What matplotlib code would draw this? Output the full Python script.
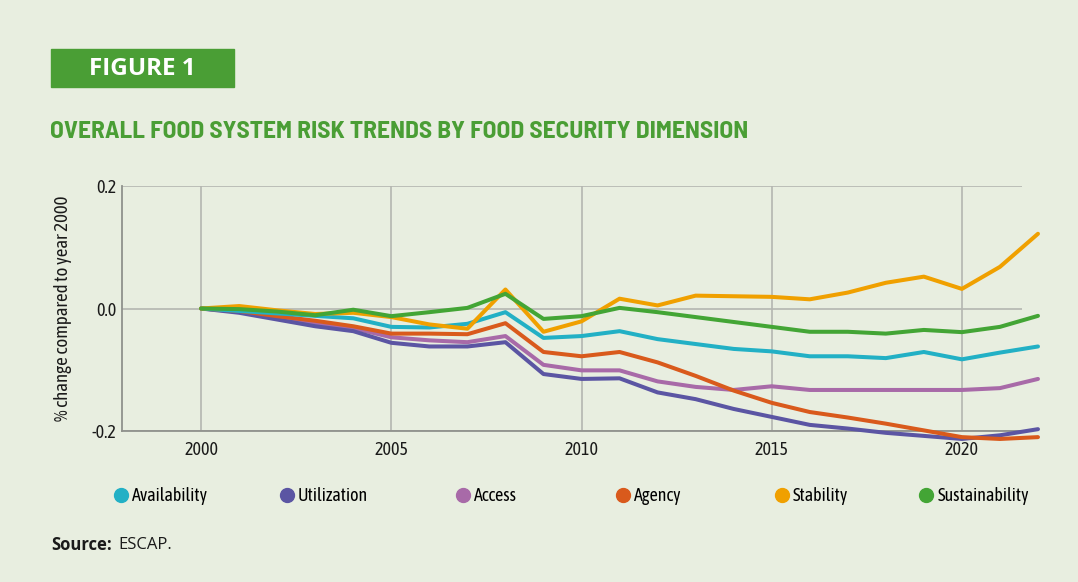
import matplotlib
matplotlib.use('Agg')
import matplotlib.pyplot as plt
from matplotlib.lines import Line2D
from matplotlib.patches import Rectangle

# данные
years = list(range(2000, 2023))

availability = [0.0, -0.004, -0.008, -0.012, -0.016, -0.030, -0.031, -0.025, -0.006, -0.048,
                -0.045, -0.037, -0.050, -0.058, -0.066, -0.070, -0.078, -0.078, -0.081, -0.071,
                -0.083, -0.072, -0.062]
utilization = [0.0, -0.007, -0.018, -0.029, -0.037, -0.056, -0.062, -0.062, -0.055, -0.107,
               -0.115, -0.114, -0.137, -0.148, -0.164, -0.177, -0.190, -0.196, -0.203, -0.208,
               -0.213, -0.207, -0.197]
access = [0.0, -0.005, -0.015, -0.024, -0.032, -0.047, -0.052, -0.055, -0.045, -0.092,
          -0.101, -0.101, -0.119, -0.128, -0.133, -0.127, -0.133, -0.133, -0.133, -0.133,
          -0.133, -0.130, -0.115]
agency = [0.0, -0.004, -0.0125, -0.020, -0.029, -0.041, -0.041, -0.042, -0.024, -0.071,
          -0.078, -0.071, -0.088, -0.110, -0.134, -0.154, -0.169, -0.178, -0.188, -0.199,
          -0.210, -0.213, -0.210]
stability = [0.0, 0.004, -0.003, -0.009, -0.007, -0.014, -0.026, -0.033, 0.031, -0.038,
             -0.021, 0.016, 0.005, 0.021, 0.020, 0.019, 0.015, 0.026, 0.042, 0.052,
             0.032, 0.068, 0.122]
sustainability = [0.0, -0.001, -0.005, -0.011, -0.002, -0.0125, -0.006, 0.001, 0.024, -0.017,
                  -0.0125, 0.001, -0.006, -0.014, -0.022, -0.030, -0.038, -0.038, -0.041, -0.035,
                  -0.0386, -0.030, -0.012]

series_names = ['Availability', 'Utilization', 'Access', 'Agency', 'Stability', 'Sustainability']
series_values = [availability, utilization, access, agency, stability, sustainability]
series_colors = ['#22b0c5', '#5b55a3', '#a86aa8', '#d95a1c', '#f0a000', '#43a535']
draw_order = [2, 1, 3, 0, 4, 5]

x_ticks = [2000, 2005, 2010, 2015, 2020]
y_ticks = [-0.2, 0.0, 0.2]
y_tick_labels = ['-0.2', '0.0', '0.2']

BG = '#e8eee0'
GREEN = '#4a9e35'
NARROW = ['Asap Condensed', 'DejaVu Sans']
TITLE_FONT = ['Barlow Semi Condensed', 'Asap Condensed', 'DejaVu Sans']
PLAIN = ['Open Sans', 'DejaVu Sans']
INK = '#1a1a1a'

W, H = 1078, 582
fig = plt.figure(figsize=(W / 100, H / 100), dpi=100, facecolor=BG)

# плашка "FIGURE 1"
fig.patches.append(Rectangle((51 / W, 1 - 87 / H), 183 / W, 38 / H,
                             transform=fig.transFigure, color=GREEN, zorder=0))
fig.text(142 / W, 1 - 69 / H, 'FIGURE 1', color='white', fontsize=17.5,
         fontweight='bold', family=PLAIN, ha='center', va='center')

fig.text(50 / W, 1 - 132 / H, 'OVERALL FOOD SYSTEM RISK TRENDS BY FOOD SECURITY DIMENSION',
         color=GREEN, fontsize=18.3, fontweight='bold', family=TITLE_FONT, ha='left', va='center')

ax = fig.add_axes([122 / W, 1 - 431 / H, 900 / W, 245 / H])
ax.set_facecolor(BG)

for i in draw_order:
    ax.plot(years, series_values[i], color=series_colors[i], lw=2.9,
            solid_capstyle='round', solid_joinstyle='round', clip_on=False, zorder=3)

ax.set_xlim(1997.92, 2021.58)
ax.set_ylim(-0.2, 0.2)
ax.set_xticks(x_ticks)
ax.set_yticks(y_ticks)
ax.set_yticklabels(y_tick_labels)
ax.tick_params(length=0, labelsize=13, colors=INK)
ax.tick_params(axis='x', pad=7)
ax.tick_params(axis='y', pad=4)
for lab in ax.get_xticklabels() + ax.get_yticklabels():
    lab.set_family(NARROW)

ax.grid(True, color='#b4b6b0', lw=1.2, zorder=1)
for side in ['top', 'right']:
    ax.spines[side].set_visible(False)
for side in ['left', 'bottom']:
    ax.spines[side].set_color('#8f918c')
    ax.spines[side].set_linewidth(1.3)

ax.set_ylabel('% change compared to year 2000', family=NARROW, fontsize=13.5, color=INK)
ax.yaxis.set_label_coords(-0.056, 0.5)

# легенда: центры подписей через равные промежутки
for k in range(len(series_names)):
    cx = (160 + 162.6 * k) / W
    handle = Line2D([], [], marker='o', ls='none', color=series_colors[k], markersize=10)
    fig.legend([handle], [series_names[k]], loc='center', bbox_to_anchor=(cx, 1 - 496 / H),
               frameon=False, handletextpad=0.1, handlelength=1.0,
               prop={'family': NARROW, 'size': 13})

fig.text(51 / W, 1 - 545 / H, 'Source:', fontsize=12, fontweight='bold',
         family=PLAIN, color=INK, ha='left', va='center')
fig.text(118 / W, 1 - 545 / H, 'ESCAP.', fontsize=12,
         family=PLAIN, color=INK, ha='left', va='center')

fig.savefig('out.png', dpi=100, facecolor=BG)
